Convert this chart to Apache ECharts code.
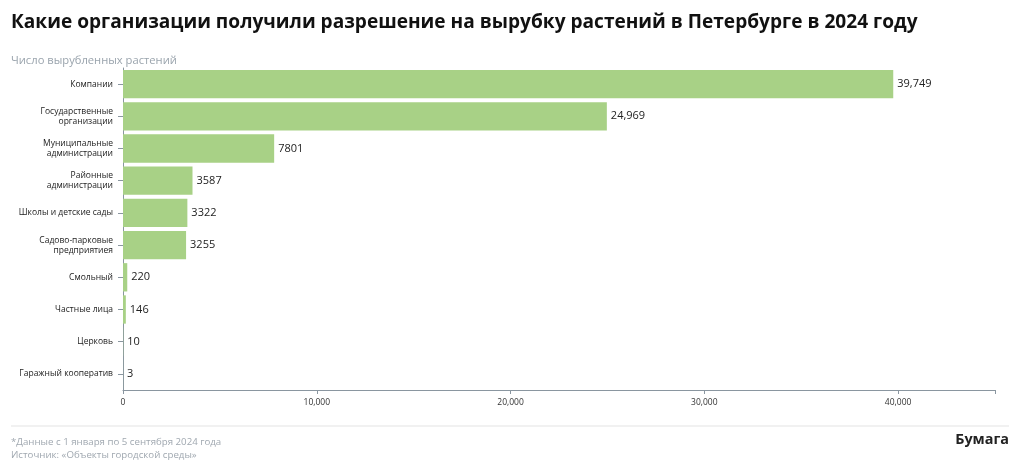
<!DOCTYPE html>
<html><head><meta charset="utf-8">
<script src="https://cdn.jsdelivr.net/npm/echarts@6/dist/echarts.min.js"></script>
<style>html,body{margin:0;padding:0;background:#fff}#c{width:1020px;height:471px}</style>
</head><body><div id="c"></div>
<script>
const categories = ["Компании","Государственные\nорганизации","Муниципальные\nадминистрации","Районные\nадминистрации","Школы и детские сады","Садово-парковые\nпредприятиея","Смольный","Частные лица","Церковь","Гаражный кооператив"];
const values = [39749,24969,7801,3587,3322,3255,220,146,10,3];
const xTicks = [0,10000,20000,30000,40000];
const title = "Какие организации получили разрешение на вырубку растений в Петербурге в 2024 году";
const subtitle = "Число вырубленных растений";
const note = "*Данные с 1 января по 5 сентября 2024 года";
const source = "Источник: «Объекты городской среды»";
const brand = "Бумага";

const fmt = v => v >= 10000 ? v.toLocaleString('en-US') : String(v);
const chart = echarts.init(document.getElementById('c'), null, {renderer:'canvas'});
chart.setOption({
  animation:false,
  textStyle:{fontFamily:'Open Sans'},
  title:[
    {text:title,left:11,top:13,padding:0,textStyle:{fontFamily:'Open Sans',fontWeight:'bold',fontSize:19.1,color:'#111'}},
    {text:subtitle,left:11,top:55,padding:0,textStyle:{fontFamily:'Open Sans',fontWeight:'normal',fontSize:11.2,color:'#9aa4ad'}},
    {text:note,left:11,top:437,padding:0,textStyle:{fontFamily:'Open Sans',fontWeight:'normal',fontSize:9.7,color:'#a0a8b0'}},
    {text:source,left:11,top:450,padding:0,textStyle:{fontFamily:'Open Sans',fontWeight:'normal',fontSize:9.7,color:'#a0a8b0'}},
    {text:brand,right:11,top:433,padding:0,textStyle:{fontFamily:'Open Sans',fontWeight:'bold',fontSize:14.4,color:'#222'}}
  ],
  graphic:[{type:'line',shape:{x1:11,y1:426,x2:1009,y2:426},style:{stroke:'#e3e3e3',lineWidth:1}}],
  grid:{left:123,right:25,top:68,bottom:81,containLabel:false},
  xAxis:{type:'value',min:0,max:45000,interval:10000,
    axisLine:{show:true,lineStyle:{color:'#8a96a0'}},
    axisTick:{show:true,length:4,lineStyle:{color:'#8a96a0'}},
    splitLine:{show:false},
    axisLabel:{fontSize:8.5,color:'#333',margin:8,formatter:v=>xTicks.includes(v)?v.toLocaleString('en-US'):''}},
  yAxis:{type:'category',data:categories,inverse:true,
    axisLine:{show:true,lineStyle:{color:'#8a96a0'}},
    axisTick:{show:true,alignWithLabel:true,length:5,lineStyle:{color:'#8a96a0'}},
    axisLabel:{fontSize:8.5,color:'#222',margin:10,lineHeight:10,align:'right'}},
  series:[{type:'bar',data:values,barCategoryGap:'12%',
    itemStyle:{color:'#a8d186'},
    label:{show:true,position:'right',distance:4,fontSize:11,color:'#222',formatter:p=>fmt(p.value)}}]
});
</script></body></html>
